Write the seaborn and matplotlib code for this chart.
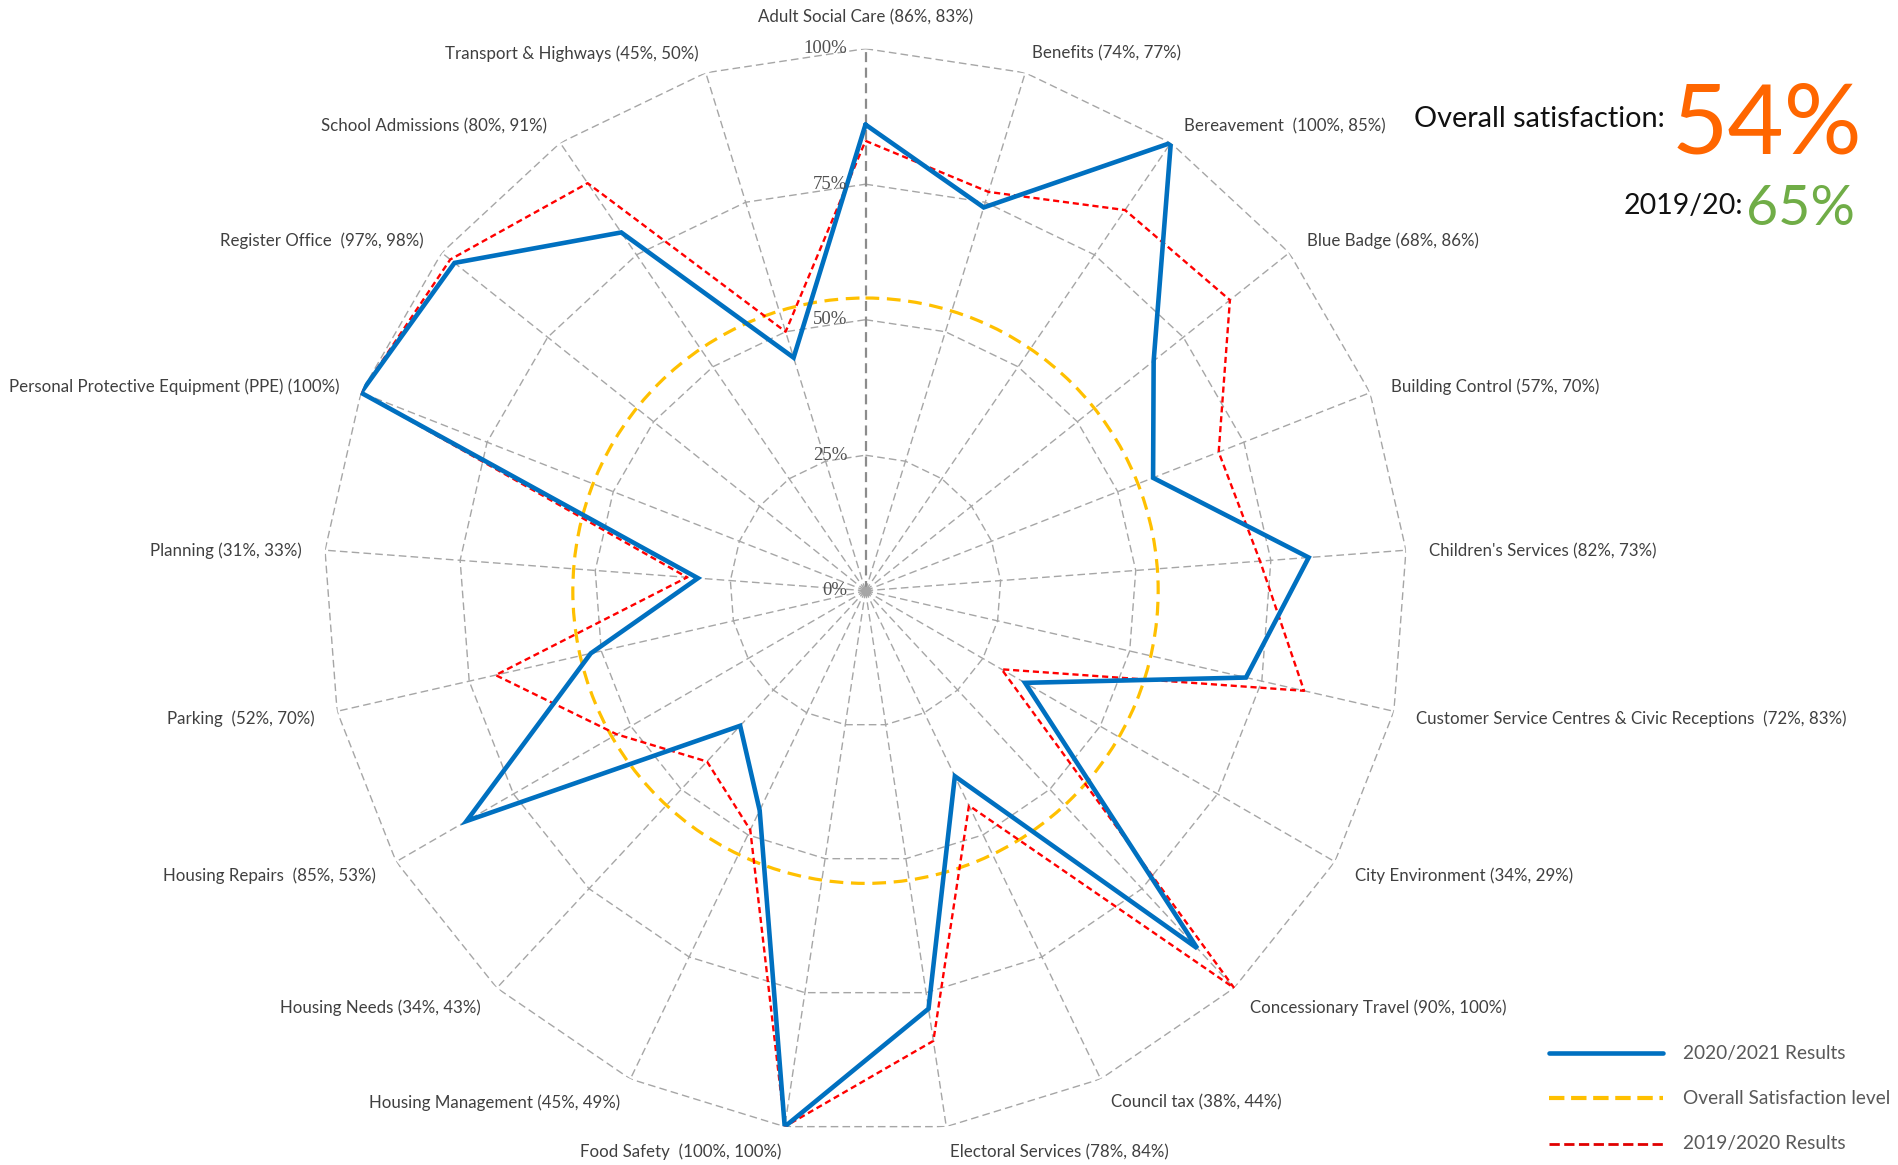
import numpy as np
import pandas as pd
import matplotlib
matplotlib.use("Agg")
import matplotlib.pyplot as plt
from matplotlib.lines import Line2D
import seaborn as sns

# ---- data -------------------------------------------------------------
services = [
    "Adult Social Care (86%, 83%)",
    "Benefits (74%, 77%)",
    "Bereavement  (100%, 85%)",
    "Blue Badge (68%, 86%)",
    "Building Control (57%, 70%)",
    "Children's Services (82%, 73%)",
    "Customer Service Centres & Civic Receptions  (72%, 83%)",
    "City Environment (34%, 29%)",
    "Concessionary Travel (90%, 100%)",
    "Council tax (38%, 44%)",
    "Electoral Services (78%, 84%)",
    "Food Safety  (100%, 100%)",
    "Housing Management (45%, 49%)",
    "Housing Needs (34%, 43%)",
    "Housing Repairs  (85%, 53%)",
    "Parking  (52%, 70%)",
    "Planning (31%, 33%)",
    "Personal Protective Equipment (PPE) (100%)",
    "Register Office  (97%, 98%)",
    "School Admissions (80%, 91%)",
    "Transport & Highways (45%, 50%)",
]
results_2021 = [86, 74, 100, 68, 57, 82, 72, 34, 90, 38, 78,
                100, 45, 34, 85, 52, 31, 100, 97, 80, 45]
results_2020 = [83, 77, 85, 86, 70, 73, 83, 29, 100, 44, 84,
                100, 49, 43, 53, 70, 33, 100, 98, 91, 50]
overall_2021 = 54
overall_2020 = 65
ring_levels = [0, 25, 50, 75, 100]
ring_labels = ["0%", "25%", "50%", "75%", "100%"]

legend_labels = ["2020/2021 Results", "Overall Satisfaction level", "2019/2020 Results"]

# ---- styling ----------------------------------------------------------
BLUE = "#0070C0"
RED = "#FF0000"
YELLOW = "#FFC000"
GRID = "#A6A6A6"
LABEL = "#404040"

sns.set_theme(style="white")
plt.rcParams["font.family"] = ["Lato", "DejaVu Sans"]

W, H = 1898, 1165
fig = plt.figure(figsize=(W / 100, H / 100), dpi=100)
fig.patch.set_facecolor("white")

# polar axes centred on the chart, radius = 100 %
cx, cy, R = 865.5, 590.7, 542
ax = fig.add_axes([(cx - R) / W, (H - cy - R) / H, 2 * R / W, 2 * R / H],
                  projection="polar")
ax.set_theta_zero_location("N")
ax.set_theta_direction(-1)
ax.set_ylim(0, 100)
ax.spines["polar"].set_visible(False)
ax.patch.set_alpha(0)
ax.set_xticks([])
ax.xaxis.grid(False)
# overall satisfaction level is drawn as the radial gridline at 54 %
ax.set_yticks([overall_2021])
ax.set_yticklabels([])
ax.tick_params(axis="y", length=0)
ax.yaxis.grid(True, color=YELLOW, lw=2.3, ls=(0, (4.3, 2.4)))
ax.set_axisbelow(False)

n = len(services)
theta = np.arange(n) * 2 * np.pi / n
theta_closed = np.append(theta, 2 * np.pi)

# polygon rings
for lvl in ring_levels[1:]:
    ax.plot(theta_closed, [lvl] * (n + 1), color=GRID, lw=1.0,
            ls=(0, (5.5, 3)), zorder=1)
# spokes
for i, t in enumerate(theta):
    if i == 0:
        ax.plot([t, t], [0, 100], color="#8C8C8C", lw=1.6,
                ls=(0, (4.5, 2.5)), zorder=1.1)
    else:
        ax.plot([t, t], [0, 100], color=GRID, lw=1.0,
                ls=(0, (5.5, 3)), zorder=1)
ax.plot([0], [0], "o", color=GRID, ms=6, zorder=1.2)

# series
df = pd.DataFrame({
    "theta": theta_closed,
    "r2021": results_2021 + results_2021[:1],
    "r2020": results_2020 + results_2020[:1],
})
sns.lineplot(data=df, x="theta", y="r2020", sort=False, ax=ax, color=RED,
             lw=1.7, ls=(0, (2.6, 1.6)), zorder=3)
sns.lineplot(data=df, x="theta", y="r2021", sort=False, ax=ax, color=BLUE,
             lw=3.3, zorder=4, solid_joinstyle="miter")
ax.set_xlabel("")
ax.set_ylabel("")
ax.set_ylim(0, 100)

# ring value labels
for lvl, lab in zip(ring_levels, ring_labels):
    ax.annotate(lab, xy=(0, lvl), xytext=(-18, 0), textcoords="offset pixels",
                ha="right", va="center", fontsize=13.5, color="#505050",
                family="Liberation Serif", zorder=5)

# category labels outside the 100 % ring
for t, lab in zip(theta, services):
    s, c = np.sin(t), np.cos(t)
    if abs(s) < 1e-6:
        off, ha = (0, 31), "center"
    else:
        off = (23 * s, 23 * c - 2.5)
        ha = "left" if s > 0 else "right"
    ax.annotate(lab, xy=(t, 100), xytext=off, textcoords="offset pixels",
                ha=ha, va="center", fontsize=12.2, color=LABEL,
                annotation_clip=False)

# headline figures
def fx(x):
    return x / W

def fy(y):
    return 1 - y / H

fig.text(fx(1665), fy(127), "Overall satisfaction:", ha="right", va="baseline",
         fontsize=20.8, color="#111111")
fig.text(fx(1672), fy(153), f"{overall_2021}%", ha="left", va="baseline",
         fontsize=70, color="#FF6600")
fig.text(fx(1743), fy(214), "2019/20:", ha="right", va="baseline",
         fontsize=20.5, color="#111111")
fig.text(fx(1746), fy(225), f"{overall_2020}%", ha="left", va="baseline",
         fontsize=40, color="#70AD47")

# legend
handles = [
    Line2D([0], [0], color=BLUE, lw=3.3, solid_capstyle="round"),
    Line2D([0], [0], color=YELLOW, lw=3.0, ls=(0, (3.8, 2.4))),
    Line2D([0], [0], color="#E00000", lw=2.0, ls=(0, (1.8, 1.2))),
]
rows_y = [1053, 1098, 1144]
for h, y, lab in zip(handles, rows_y, legend_labels):
    ln = Line2D([fx(1549), fx(1663)], [fy(y), fy(y)], transform=fig.transFigure,
                color=h.get_color(), lw=h.get_linewidth(), ls=h.get_linestyle(),
                solid_capstyle="round")
    fig.add_artist(ln)
    fig.text(fx(1683), fy(y), lab, ha="left", va="center", fontsize=13.8,
             color="#595959")

fig.savefig("out.png", dpi=100, facecolor="white")
